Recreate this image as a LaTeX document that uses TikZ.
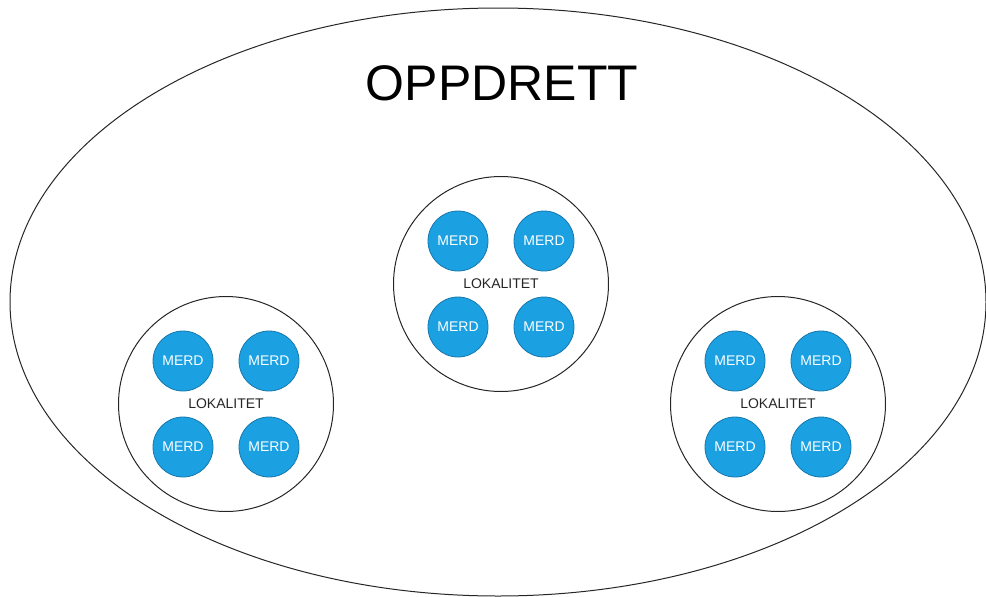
\documentclass[tikz,border=0pt]{standalone}
\usepackage{fontspec}
\setmainfont{Liberation Sans}
\usetikzlibrary{shapes.geometric}
\definecolor{merdblu}{HTML}{1BA1E2}
\definecolor{merdbordo}{HTML}{1677AE}
\tikzset{
  merd/.style={circle, fill=merdblu, draw=merdbordo, line width=0.8pt,
    minimum size=60pt, inner sep=0pt, text=white,
    font=\fontsize{14}{16}\selectfont},
  lokalitet/.style={circle, draw=black!85, line width=1pt,
    minimum size=215pt, inner sep=0pt, text=black!85,
    font=\fontsize{14}{16}\selectfont}
}
\begin{document}
\begin{tikzpicture}[x=1pt,y=-1pt]
    \useasboundingbox (0,0) rectangle (986,597);
    % ellisse esterna con il titolo
    \node (oppdrett) [ellipse, draw=black!85, line width=1pt,
        minimum width=976pt, minimum height=588pt, inner sep=0pt] at (498,302) {};
    \node (titolo) at (502,83) {\fontsize{50}{56}\selectfont OPPDRETT};
    % tre lokaliteter, ognuna con quattro merder
    \foreach \nome/\cx/\cy in {lokA/226/404, lokB/501/284, lokC/778/404} {
        \node[lokalitet] (\nome) at (\cx,\cy) {LOKALITET};
        \foreach \dx/\dy [count=\i] in {-43/-43, 43/-43, -43/43, 43/43}
            \node[merd] (\nome-\i) at ([shift={(\dx,\dy)}]\nome.center) {MERD};
    }
\end{tikzpicture}
\end{document}
